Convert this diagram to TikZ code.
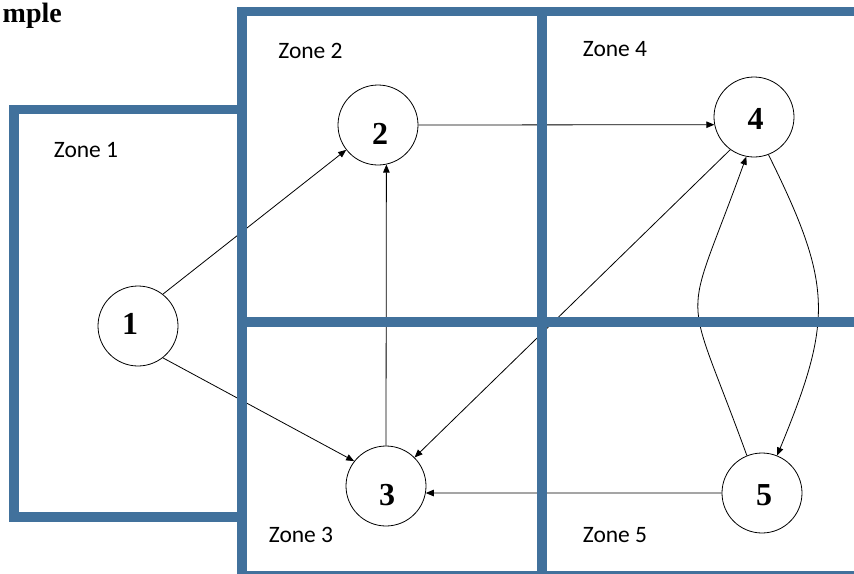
\documentclass[tikz,border=0pt]{standalone}
\usepackage{fontspec}
\setmainfont{Liberation Serif}
\newfontfamily\zonefont{Carlito}
\usetikzlibrary{arrows.meta}
\definecolor{zoneblue}{RGB}{65,113,156}
\begin{document}
\begin{tikzpicture}[x=1pt,y=-1pt,
  zone/.style={draw=zoneblue,line width=9.5pt,line join=miter},
  vertex/.style={circle,draw=black,line width=0.8pt,minimum size=80pt,inner sep=0pt},
  ztext/.style={font=\zonefont\fontsize{23.5}{28}\selectfont,inner sep=0pt},
  num/.style={font=\bfseries\fontsize{32}{36}\selectfont,inner sep=0pt},
  edge/.style={draw=black,line width=0.8pt,-{Triangle[length=8pt,width=6.5pt]}},
]
\useasboundingbox (0,0) rectangle (854,573);
\clip (0,0) rectangle (854,573);
% title
\node[anchor=base east,inner sep=0pt,font=\bfseries\fontsize{28}{32}\selectfont] (title) at (62,22) {mple};
% vertices
\node[vertex,label={[num,xshift=-8pt,yshift=2pt]center:1}] (n1) at (138,326) {};
\node[vertex,label={[num,xshift=2pt,yshift=-9pt]center:2}] (n2) at (378,125) {};
\node[vertex,label={[num,xshift=1pt,yshift=-9pt]center:3}] (n3) at (386,486) {};
\node[vertex,label={[num,xshift=1.5pt,yshift=-1.5pt]center:4}] (n4) at (754,117) {};
\node[vertex,label={[num,xshift=2pt,yshift=-2.5pt]center:5}] (n5) at (762,493) {};
% edges
\draw[edge] (n1.52) -- (n2.-142);
\draw[edge] (n1.-52) -- (n3.142);
\draw[edge] (n3.north) -- (n2.-78.5);
\draw[edge] (n2.east) -- (n4.-169);
\draw[edge] (n4.-126) -- (n3.45);
\draw[edge] (n5.west) -- (n3.-10);
\draw[edge] (n4.-69) .. controls (833,285) and (833,320) .. (n5.68);
\draw[edge] (n5.112) .. controls (682,277) and (682,335) .. (n4.-101);
% zones
\draw[zone] (14,109.5) rectangle (242,517);
\draw[zone] (242,576) -- (242,11.5) -- (870,11.5);
\draw[zone] (542,11.5) -- (542,576);
\draw[zone] (242,322) -- (870,322);
\draw[zone] (242,576) -- (870,576);
% zone labels
\node[ztext] (z1) at (86,150) {Zone 1};
\node[ztext] (z2) at (310.5,50.5) {Zone 2};
\node[ztext] (z3) at (301,535) {Zone 3};
\node[ztext] (z4) at (615,49) {Zone 4};
\node[ztext] (z5) at (615,535) {Zone 5};
\end{tikzpicture}
\end{document}
